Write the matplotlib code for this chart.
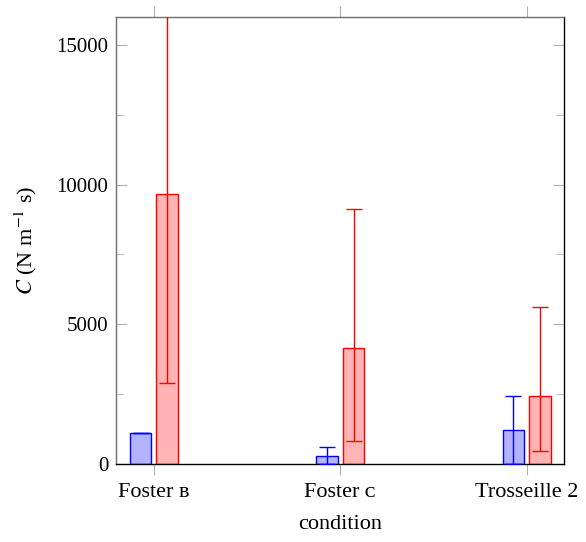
import matplotlib
matplotlib.use("Agg")
import matplotlib.pyplot as plt
import numpy as np

plt.rcParams["font.family"] = ["Liberation Serif", "DejaVu Serif"]
plt.rcParams["mathtext.fontset"] = "stix"

# datos
condiciones = ["Foster \u0299", "Foster \u1d04", "Trosseille 2"]
azul = [1100, 300, 1200]
azul_err_inf = [0, 300, 1200]
azul_err_sup = [0, 310, 1220]
rojo = [9670, 4140, 2430]
rojo_err_inf = [6770, 3310, 1955]
rojo_err_sup = [7000, 4990, 3180]

x = np.arange(len(condiciones))
ancho = 0.116
desp = 0.071

fig = plt.figure(figsize=(5.86, 5.42), dpi=100)
ax = fig.add_axes([0.1988, 0.1439, 0.9625 - 0.1988, 0.9686 - 0.1439])

ax.bar(x - desp, azul, ancho, color=(0.7, 0.7, 1.0), edgecolor="blue", linewidth=1.0, zorder=2)
ax.errorbar(x - desp, azul, yerr=[azul_err_inf, azul_err_sup], fmt="none",
            ecolor="blue", elinewidth=1.0, capsize=6, capthick=1.0, zorder=3)
ax.bar(x + desp, rojo, ancho, color=(1.0, 0.7, 0.7), edgecolor="red", linewidth=1.0, zorder=2)
ax.errorbar(x + desp, rojo, yerr=[rojo_err_inf, rojo_err_sup], fmt="none",
            ecolor="red", elinewidth=1.0, capsize=6, capthick=1.0, zorder=3)

ax.set_xlim(-0.2, 2.2)
ax.set_ylim(0, 16000)
ax.set_xticks(x)
ax.set_xticklabels(condiciones)
ax.set_yticks([0, 5000, 10000, 15000])
ax.set_yticks(np.arange(2500, 16000, 5000), minor=True)

ax.tick_params(axis="x", direction="out", length=8, color="#b0b0b0", top=True,
               labelsize=16, pad=6)
ax.tick_params(axis="y", which="major", direction="in", length=8, color="#b0b0b0",
               right=True, labelsize=15, pad=6)
ax.tick_params(axis="y", which="minor", direction="in", length=6, color="#b0b0b0", right=True)

for lado in ["left", "top"]:
    ax.spines[lado].set_color("#707070")
for lado in ["bottom", "right"]:
    ax.spines[lado].set_color("black")
for s in ax.spines.values():
    s.set_linewidth(1.0)

ax.set_xlabel("condition", fontsize=16, labelpad=9)
ax.set_ylabel("$C$ (N m$^{-1}$ s)", fontsize=16, labelpad=12)

fig.savefig("out.png", dpi=100)
